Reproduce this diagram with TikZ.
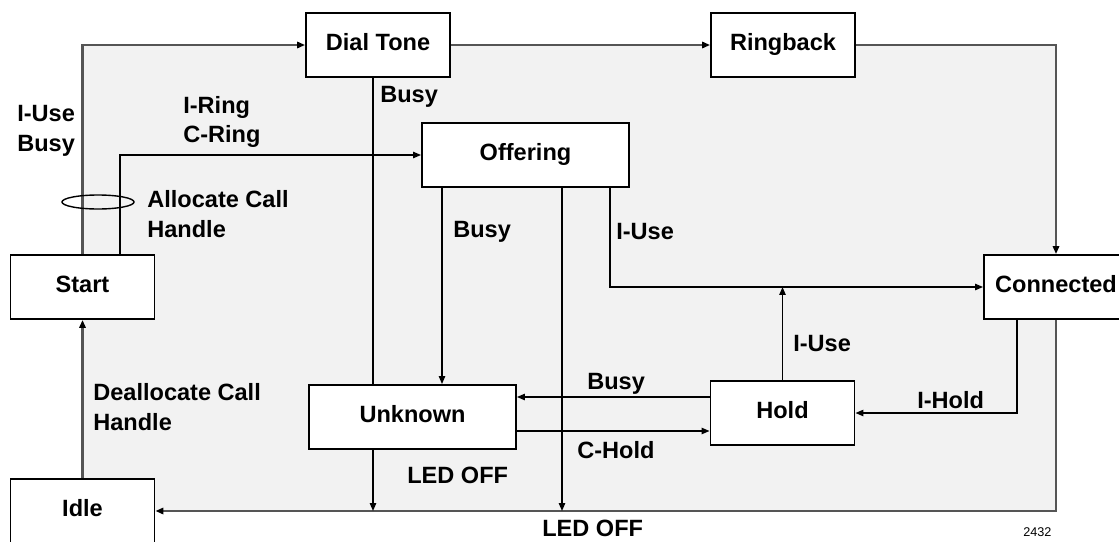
\documentclass[tikz,border=0pt]{standalone}
\usepackage{fontspec}
\setmainfont{Liberation Sans}
\usetikzlibrary{arrows.meta,positioning,calc,backgrounds}
\definecolor{panel}{HTML}{F2F2F2}
\definecolor{greyl}{HTML}{555555}

\begin{document}
\begin{tikzpicture}[x=0.02cm,y=0.02cm,font=\fontsize{13.4}{17}\selectfont\bfseries,
            box/.style={draw,line width=1.1pt,fill=white,minimum width=2.88cm,minimum height=1.28cm,inner sep=0pt,
              text height=0.74em,text depth=0.12em},
            wide/.style={box,minimum width=4.14cm},
            lab/.style={anchor=west,align=left,inner sep=0pt},
            link/.style={line width=0.8pt},
            flow/.style={link,-{Triangle[length=4.5pt,width=3.6pt]}},
            loop/.style={link,draw=greyl,line width=1.3pt,-{Triangle[length=4.5pt,width=3.6pt,color=black]}}]
  \useasboundingbox (0,0) rectangle (1119,-541);
  % states
  \node[box] (dial) at (378,-45) {Dial Tone};
  \node[box] (ring) at (783,-45) {Ringback};
  \node[wide] (offer) at (525.5,-155) {Offering};
  \node[box] (start) at (82.5,-287) {Start};
  \node[box] (conn) at (1056,-287) {Connected};
  \node[wide] (unk) at (412.5,-417) {Unknown};
  \node[box] (hold) at (782.5,-413) {Hold};
  \node[box] (idle) at (82.5,-511) {Idle};
  \begin{scope}[on background layer]
    \fill[panel] (start.north |- dial.west) rectangle (conn.south |- idle.east);
  \end{scope}
  % tracks
  \coordinate (xa) at (373,0);
  \coordinate (xb) at (442,0);
  \coordinate (xc) at (562,0);
  \coordinate (xd) at (610,0);
  \coordinate (xe) at (1017,0);
  \coordinate (hb) at ([yshift=0.32cm]hold.west);
  \coordinate (uc) at ([yshift=-0.28cm]unk.east);
  % outer loop
  \draw[loop] (start.north) |- (dial.west);
  \draw[loop] (dial.east) -- (ring.west);
  \draw[loop] (ring.east) -| (conn.north);
  \draw[loop] (conn.south) |- (idle.east);
  \draw[loop] (idle.north) -- (start.south);
  % transitions
  \draw[flow] ([xshift=0.75cm]start.north) |- (offer.west);
  \draw[link] (dial.south -| xa) -- (unk.north -| xa);
  \draw[flow] (offer.south -| xb) -- (unk.north -| xb);
  \draw[flow] (offer.south -| xc) -- (idle.east -| xc);
  \draw[flow] (offer.south -| xd) |- (conn.west);
  \draw[flow] (unk.south -| xa) -- (idle.east -| xa);
  \draw[flow] (hold.north) -- (hold.north |- conn.west);
  \draw[flow] (conn.south -| xe) |- (hold.east);
  \draw[flow] (hb) -- (unk.east |- hb);
  \draw[flow] (uc) -- (hold.west |- uc);
  \draw[link] (98,-202) ellipse [x radius=0.72cm,y radius=0.14cm];
  % labels
  \node[lab] (tuse) at (17,-131) {I-Use\\Busy};
  \node[lab] (tring) at (183,-122) {I-Ring\\C-Ring};
  \node[lab] (talloc) at (147,-214) {Allocate Call\\Handle};
  \node[lab] (tbusya) at (380,-97) {Busy};
  \node[lab] (tbusyb) at (453,-232) {Busy};
  \node[lab] (tusea) at (616,-232) {I-Use};
  \node[lab] (tuseb) at (793,-344) {I-Use};
  \node[lab] (thold) at (917,-400) {I-Hold};
  \node[lab] (tbusyc) at (587,-384) {Busy};
  \node[lab] (tchold) at (577,-450) {C-Hold};
  \node[lab] (tleda) at (407,-475) {LED OFF};
  \node[lab] (tledb) at (542,-528) {LED OFF};
  \node[lab] (tdealloc) at (93,-407) {Deallocate Call\\Handle};
  \node[lab,font=\fontsize{7.2}{9}\selectfont] (tnum) at (1023,-532) {2432};
\end{tikzpicture}
\end{document}
